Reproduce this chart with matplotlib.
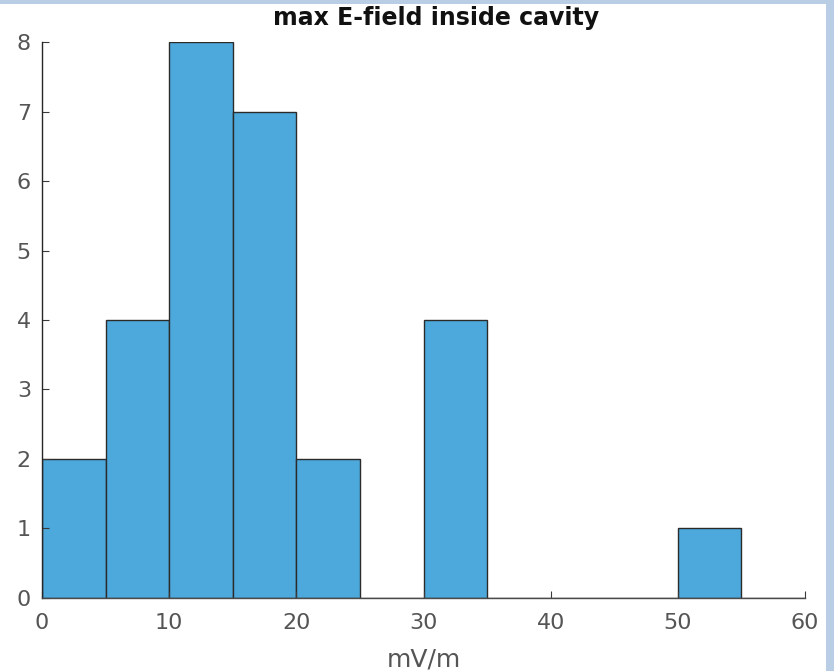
import matplotlib
matplotlib.use("Agg")
import matplotlib.pyplot as plt
from matplotlib.patches import Rectangle

# histogram of max E-field values (bin edges in mV/m, counts per bin)
bin_edges = [0, 5, 10, 15, 20, 25, 30, 35, 40, 45, 50, 55, 60]
counts = [2, 4, 8, 7, 2, 0, 4, 0, 0, 0, 1, 0]
x_ticks = [0, 10, 20, 30, 40, 50, 60]
y_ticks = [0, 1, 2, 3, 4, 5, 6, 7, 8]

plt.rcParams['font.family'] = ['DejaVu Sans']

fig = plt.figure(figsize=(8.34, 6.71), dpi=100)
ax = fig.add_axes([0.0504, 0.1088, 0.9148, 0.8286])

centers = [(a + b) / 2 for a, b in zip(bin_edges[:-1], bin_edges[1:])]
ax.hist(centers, bins=bin_edges, weights=counts,
        facecolor='#4DA8DB', edgecolor='#2b2b2b', linewidth=1.0)

ax.set_xlim(0, 60)
ax.set_ylim(0, 8)
ax.set_xticks(x_ticks)
ax.set_yticks(y_ticks)
ax.spines['top'].set_visible(False)
ax.spines['right'].set_visible(False)
ax.spines['left'].set_color('#262626')
ax.spines['bottom'].set_color('#4a4a4a')
for s in ('left', 'bottom'):
    ax.spines[s].set_linewidth(1.0)
ax.tick_params(direction='in', length=5, width=0.8, colors='#3a3a3a',
               labelsize=16, labelcolor='#555555')
ax.tick_params(axis='x', pad=11)
ax.tick_params(axis='y', pad=8)

ax.set_title('max E-field inside cavity', fontsize=17, fontweight='bold',
             x=0.516, pad=12, color='#111111')
ax.set_xlabel('mV/m', fontsize=18, color='#555555', labelpad=10)

# light blue frame strips along top and right edge
fig.patches.append(Rectangle((0, 1 - 4 / 671), 1, 4 / 671, transform=fig.transFigure,
                             facecolor='#B9CDE5', edgecolor='none', zorder=-1))
fig.patches.append(Rectangle((826 / 834, 0), 8 / 834, 1, transform=fig.transFigure,
                             facecolor='#B9CDE5', edgecolor='none', zorder=-1))

fig.savefig('out.png', dpi=100)
